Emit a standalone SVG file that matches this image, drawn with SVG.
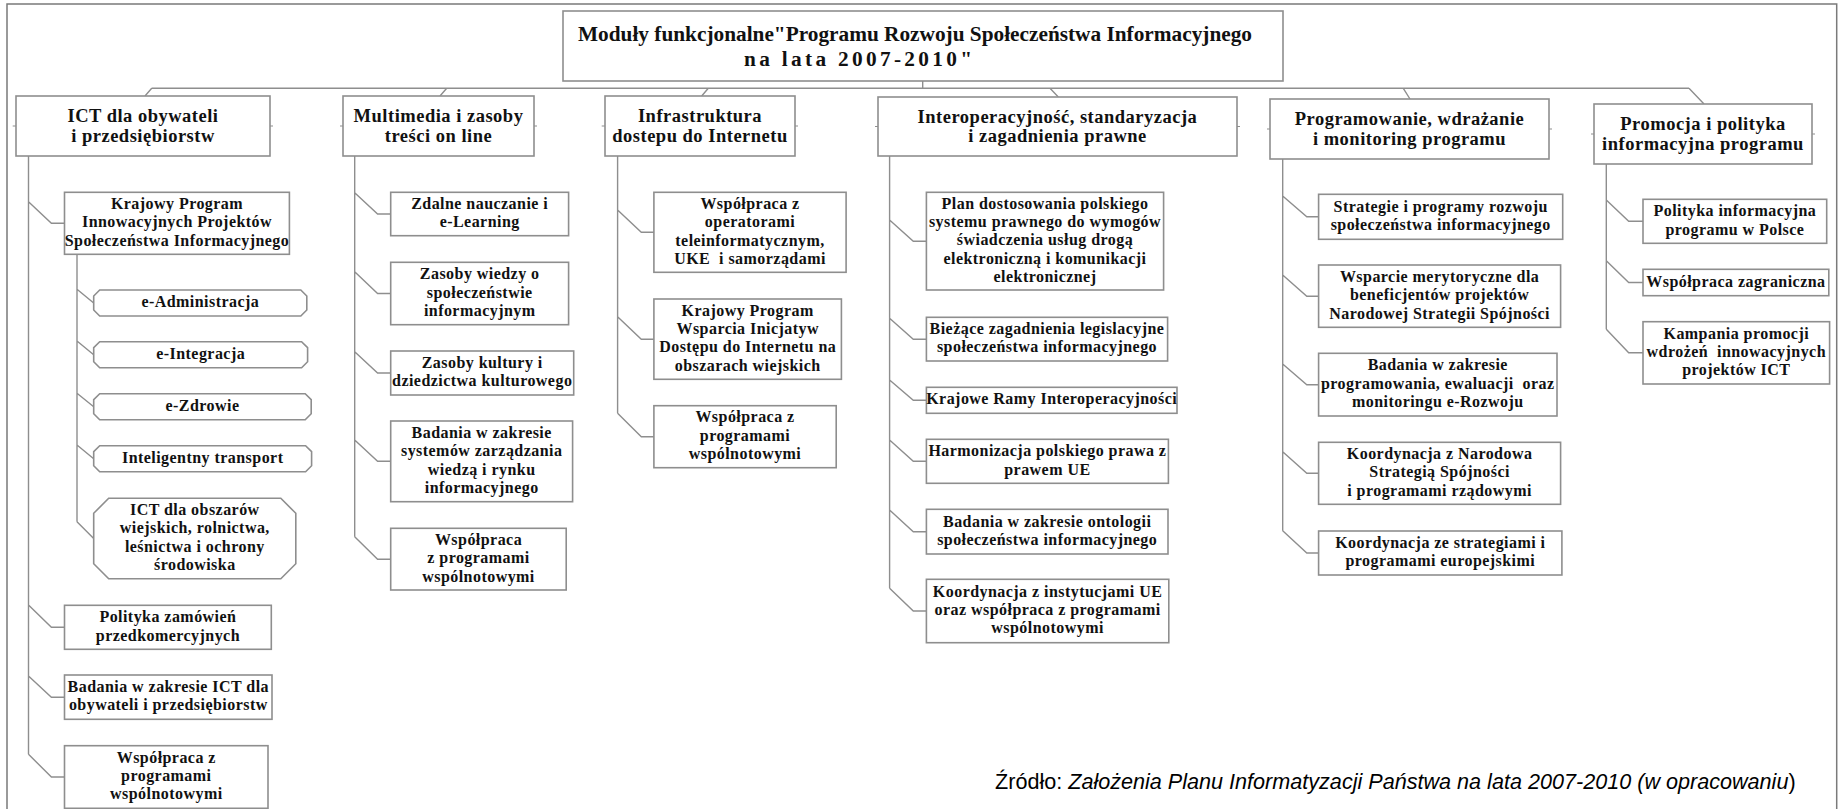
<svg xmlns="http://www.w3.org/2000/svg" width="1839" height="809" viewBox="0 0 1839 809">
<style>
.box{fill:#fff;stroke:#8e8e8e;stroke-width:1.6}
.conn{fill:none;stroke:#8e8e8e;stroke-width:1.4}
.tick{fill:none;stroke:#8e8e8e;stroke-width:1.2}
.t{font-family:"Liberation Serif","Times New Roman",serif;font-weight:bold;font-size:16px;letter-spacing:0.45px;text-anchor:middle;fill:#111}
.t1{font-size:18.5px;letter-spacing:0.5px}
.tt{font-size:21.3px;letter-spacing:0}
.src{font-family:"Liberation Sans",Arial,sans-serif;font-size:21.6px;fill:#000}
</style>
<rect width="1839" height="809" fill="#fff"/>
<path d="M7,809 V4 H1836.7 V809" fill="none" stroke="#7a7a7a" stroke-width="1.5"/>

<g id="connectors">
<path class="conn" d="M151.7,88.3 H1689 M922.7,81 V88.3 M151.7,88.3 L145,96 M446.7,88.3 L440,96 M708.3,88.3 L701.7,96 M1050,88.3 L1058.3,97 M1403.3,88.3 L1410,99 M1689,88.3 L1704,104"/>
<path class="tick" d="M12.7,126 H16 M270,126 H273 M340,126 H343 M534,126 H537 M601.7,126 H605 M795,126 H798 M875,126.5 H878 M1237,126.5 H1240 M1267,129 H1270 M1549,129 H1552 M1591,134 H1594 M1812,134 H1815"/>
<path class="conn" d="M28.5,156 V754.3 M28.5,201.7 L51.4,223.3 H64.5 M28.5,605 L51.4,627.3 H64.5 M28.5,676 L51.4,697.2 H64.5 M28.5,754.3 L51.4,777 H64.5"/>
<path class="conn" d="M77,254.3 V521.7 M77,289.3 L93.7,303 M77,341 L93.7,354.7 M77,393.3 L93.7,406.7 M77,445 L93.7,458.7 M77,521.7 L93.7,538.5"/>
<path class="conn" d="M354.7,156 V536.7 M354.7,192.7 L377.6,214 H390.7 M354.7,271.7 L377.6,293.5 H390.7 M354.7,351.7 L377.6,373 H390.7 M354.7,440 L377.6,461.3 H390.7 M354.7,536.7 L377.6,559.2 H390.7"/>
<path class="conn" d="M617.6,156 V413.3 M617.6,210 L641.3,232.3 H653.9 M617.6,316.7 L641.3,339.2 H653.9 M617.6,413.3 L641.3,436.7 H653.9"/>
<path class="conn" d="M889.6,156 V588.3 M889.6,220 L913.3,241.2 H926.4 M889.6,318.3 L913.3,339.2 H926.4 M889.6,380 L913.3,400.3 H926.4 M889.6,440 L913.3,461.3 H926.4 M889.6,510 L913.3,531.7 H926.4 M889.6,588.3 L913.3,611 H926.4"/>
<path class="conn" d="M1282.7,159 V530.7 M1282.7,196 L1306.8,216.8 H1318.6 M1282.7,275 L1306.8,296.2 H1318.6 M1282.7,364 L1306.8,384.7 H1318.6 M1282.7,451.7 L1306.8,473.3 H1318.6 M1282.7,530.7 L1306.8,553 H1318.6"/>
<path class="conn" d="M1606.3,164 V329.3 M1606.3,200 L1628.7,221.3 H1643 M1606.3,260.7 L1628.7,282.5 H1643 M1606.3,329.3 L1628.7,352.8 H1643"/>
</g>

<g id="title"><rect class="box" x="563" y="11" width="720" height="70"/>
<text class="t tt" x="915" y="40.5">Moduły funkcjonalne"Programu Rozwoju Społeczeństwa Informacyjnego</text>
<text class="t tt" x="858" y="66" textLength="228" lengthAdjust="spacing">na lata 2007-2010"</text></g>

<g id="ict"><rect class="box" x="16" y="96" width="254" height="60"/>
<text class="t t1" x="143" y="122.3">ICT dla obywateli</text><text class="t t1" x="143" y="141.7">i przedsiębiorstw</text></g>
<g id="multimedia"><rect class="box" x="343" y="96" width="191" height="60"/>
<text class="t t1" x="438.5" y="122.3">Multimedia i zasoby</text><text class="t t1" x="438.5" y="141.7">treści on line</text></g>
<g id="infrastruktura"><rect class="box" x="605" y="96" width="190" height="60"/>
<text class="t t1" x="700" y="122.3">Infrastruktura</text><text class="t t1" x="700" y="141.7">dostepu do Internetu</text></g>
<g id="interoperacyjnosc"><rect class="box" x="878" y="97" width="359" height="59"/>
<text class="t t1" x="1057.5" y="122.8">Interoperacyjność, standaryzacja</text><text class="t t1" x="1057.5" y="142.2">i zagadnienia prawne</text></g>
<g id="programowanie"><rect class="box" x="1270" y="99" width="279" height="60"/>
<text class="t t1" x="1409.5" y="125.3">Programowanie, wdrażanie</text><text class="t t1" x="1409.5" y="144.7">i monitoring programu</text></g>
<g id="promocja"><rect class="box" x="1594" y="104" width="218" height="60"/>
<text class="t t1" x="1703" y="130.3">Promocja i polityka</text><text class="t t1" x="1703" y="149.7">informacyjna programu</text></g>

<g id="kpiprsi"><rect class="box" x="64.5" y="192.3" width="224.9" height="62"/>
<text class="t" x="177" y="209">Krajowy Program</text><text class="t" x="177" y="227.3">Innowacyjnych Projektów</text><text class="t" x="177" y="245.6">Społeczeństwa Informacyjnego</text></g>
<g id="e-administracja"><polygon class="box" points="99.7,290 300.8,290 306.8,296 306.8,310 300.8,316 99.7,316 93.7,310 93.7,296"/>
<text class="t" x="200.3" y="307">e-Administracja</text></g>
<g id="e-integracja"><polygon class="box" points="99.7,341.7 301.6,341.7 307.6,347.7 307.6,361.7 301.6,367.7 99.7,367.7 93.7,361.7 93.7,347.7"/>
<text class="t" x="200.7" y="358.7">e-Integracja</text></g>
<g id="e-zdrowie"><polygon class="box" points="99.7,393.7 305.2,393.7 311.2,399.7 311.2,413.7 305.2,419.7 99.7,419.7 93.7,413.7 93.7,399.7"/>
<text class="t" x="202.5" y="410.7">e-Zdrowie</text></g>
<g id="transport"><polygon class="box" points="99.7,445.7 305.6,445.7 311.6,451.7 311.6,465.7 305.6,471.7 99.7,471.7 93.7,465.7 93.7,451.7"/>
<text class="t" x="202.7" y="462.7">Inteligentny transport</text></g>
<g id="ict-obszary"><polygon class="box" points="108.7,498.3 280.8,498.3 295.8,513.3 295.8,563.7 280.8,578.7 108.7,578.7 93.7,563.7 93.7,513.3"/>
<text class="t" x="194.8" y="515.1">ICT dla obszarów</text><text class="t" x="194.8" y="533.4">wiejskich, rolnictwa,</text><text class="t" x="194.8" y="551.7">leśnictwa i ochrony</text><text class="t" x="194.8" y="570">środowiska</text></g>
<g id="polityka-zamowien"><rect class="box" x="64.5" y="605.3" width="206.8" height="44"/>
<text class="t" x="167.9" y="622.2">Polityka zamówień</text><text class="t" x="167.9" y="640.5">przedkomercyjnych</text></g>
<g id="badania-ict"><rect class="box" x="64.5" y="675" width="207.5" height="44.3"/>
<text class="t" x="168.3" y="692">Badania w zakresie ICT dla</text><text class="t" x="168.3" y="710.3">obywateli i przedsiębiorstw</text></g>
<g id="wspolpraca-ict"><rect class="box" x="64.5" y="745.7" width="203.5" height="62.6"/>
<text class="t" x="166.3" y="762.7">Współpraca z</text><text class="t" x="166.3" y="781">programami</text><text class="t" x="166.3" y="799.3">wspólnotowymi</text></g>

<g id="zdalne"><rect class="box" x="390.7" y="192.3" width="177.9" height="43.4"/>
<text class="t" x="479.7" y="208.9">Zdalne nauczanie i</text><text class="t" x="479.7" y="227.2">e-Learning</text></g>
<g id="zasoby-wiedzy"><rect class="box" x="390.7" y="262.3" width="177.9" height="62.4"/>
<text class="t" x="479.7" y="279.2">Zasoby wiedzy o</text><text class="t" x="479.7" y="297.5">społeczeństwie</text><text class="t" x="479.7" y="315.8">informacyjnym</text></g>
<g id="zasoby-kultury"><rect class="box" x="390.7" y="351" width="183" height="44"/>
<text class="t" x="482.2" y="367.9">Zasoby kultury i</text><text class="t" x="482.2" y="386.2">dziedzictwa kulturowego</text></g>
<g id="badania-systemow"><rect class="box" x="390.7" y="421" width="181.9" height="80.7"/>
<text class="t" x="481.7" y="437.9">Badania w zakresie</text><text class="t" x="481.7" y="456.2">systemów zarządzania</text><text class="t" x="481.7" y="474.5">wiedzą i rynku</text><text class="t" x="481.7" y="492.8">informacyjnego</text></g>
<g id="wspolpraca-mm"><rect class="box" x="390.7" y="528.3" width="175.5" height="61.7"/>
<text class="t" x="478.5" y="544.9">Współpraca</text><text class="t" x="478.5" y="563.2">z programami</text><text class="t" x="478.5" y="581.5">wspólnotowymi</text></g>

<g id="wspolpraca-operatorzy"><rect class="box" x="653.9" y="192.3" width="192.2" height="80"/>
<text class="t" x="750" y="208.9">Współpraca z</text><text class="t" x="750" y="227.2">operatorami</text><text class="t" x="750" y="245.5">teleinformatycznym,</text><text class="t" x="750" y="263.8" xml:space="preserve">UKE  i samorządami</text></g>
<g id="kpwidi"><rect class="box" x="653.9" y="299" width="187.5" height="80.3"/>
<text class="t" x="747.7" y="315.8">Krajowy Program</text><text class="t" x="747.7" y="334.1">Wsparcia Inicjatyw</text><text class="t" x="747.7" y="352.4">Dostępu do Internetu na</text><text class="t" x="747.7" y="370.7">obszarach wiejskich</text></g>
<g id="wspolpraca-inf"><rect class="box" x="653.9" y="405.7" width="182.3" height="62"/>
<text class="t" x="745" y="422.4">Współpraca z</text><text class="t" x="745" y="440.7">programami</text><text class="t" x="745" y="459">wspólnotowymi</text></g>

<g id="plan-dostosowania"><rect class="box" x="926.4" y="192.3" width="237.2" height="97.7"/>
<text class="t" x="1045" y="208.6">Plan dostosowania polskiego</text><text class="t" x="1045" y="226.9">systemu prawnego do wymogów</text><text class="t" x="1045" y="245.2">świadczenia usług drogą</text><text class="t" x="1045" y="263.5">elektroniczną i komunikacji</text><text class="t" x="1045" y="281.8">elektronicznej</text></g>
<g id="biezace"><rect class="box" x="926.4" y="317.3" width="241.2" height="43.7"/>
<text class="t" x="1047" y="334.1">Bieżące zagadnienia legislacyjne</text><text class="t" x="1047" y="352.4">społeczeństwa informacyjnego</text></g>
<g id="kri"><rect class="box" x="926.4" y="387.3" width="250.6" height="26"/>
<text class="t" x="1051.7" y="404.3">Krajowe Ramy Interoperacyjności</text></g>
<g id="harmonizacja"><rect class="box" x="926.4" y="439.3" width="242" height="44"/>
<text class="t" x="1047.4" y="456.2">Harmonizacja polskiego prawa z</text><text class="t" x="1047.4" y="474.5">prawem UE</text></g>
<g id="ontologie"><rect class="box" x="926.4" y="509.3" width="241.6" height="44.7"/>
<text class="t" x="1047.2" y="526.6">Badania w zakresie ontologii</text><text class="t" x="1047.2" y="544.9">społeczeństwa informacyjnego</text></g>
<g id="koordynacja-ue"><rect class="box" x="926.4" y="579.3" width="242.4" height="63.4"/>
<text class="t" x="1047.6" y="596.7">Koordynacja z instytucjami UE</text><text class="t" x="1047.6" y="615">oraz współpraca z programami</text><text class="t" x="1047.6" y="633.3">wspólnotowymi</text></g>

<g id="strategie"><rect class="box" x="1318.6" y="194.3" width="244.1" height="45"/>
<text class="t" x="1440.7" y="211.7">Strategie i programy rozwoju</text><text class="t" x="1440.7" y="230">społeczeństwa informacyjnego</text></g>
<g id="wsparcie"><rect class="box" x="1318.6" y="265" width="242" height="62.3"/>
<text class="t" x="1439.6" y="281.9">Wsparcie merytoryczne dla</text><text class="t" x="1439.6" y="300.2">beneficjentów projektów</text><text class="t" x="1439.6" y="318.5">Narodowej Strategii Spójności</text></g>
<g id="badania-programowania"><rect class="box" x="1318.6" y="353.3" width="238.4" height="62.7"/>
<text class="t" x="1437.8" y="370.4">Badania w zakresie</text><text class="t" x="1437.8" y="388.7" xml:space="preserve">programowania, ewaluacji  oraz</text><text class="t" x="1437.8" y="407">monitoringu e-Rozwoju</text></g>
<g id="koordynacja-nss"><rect class="box" x="1318.6" y="442.3" width="242" height="62"/>
<text class="t" x="1439.6" y="459">Koordynacja z Narodowa</text><text class="t" x="1439.6" y="477.3">Strategią Spójności</text><text class="t" x="1439.6" y="495.6">i programami rządowymi</text></g>
<g id="koordynacja-eu"><rect class="box" x="1318.6" y="531" width="243.3" height="44"/>
<text class="t" x="1440.3" y="547.9">Koordynacja ze strategiami i</text><text class="t" x="1440.3" y="566.2">programami europejskimi</text></g>

<g id="polityka-informacyjna"><rect class="box" x="1643" y="199.3" width="183.7" height="44"/>
<text class="t" x="1734.9" y="216.2">Polityka informacyjna</text><text class="t" x="1734.9" y="234.5">programu w Polsce</text></g>
<g id="wspolpraca-zagraniczna"><rect class="box" x="1643" y="269.3" width="185.8" height="26.4"/>
<text class="t" x="1735.9" y="286.5">Współpraca zagraniczna</text></g>
<g id="kampania"><rect class="box" x="1643" y="321.7" width="186.6" height="62.3"/>
<text class="t" x="1736.3" y="338.5">Kampania promocji</text><text class="t" x="1736.3" y="356.8" xml:space="preserve">wdrożeń  innowacyjnych</text><text class="t" x="1736.3" y="375.1">projektów ICT</text></g>

<text class="src" x="995" y="789">Źródło: <tspan font-style="italic">Założenia Planu Informatyzacji Państwa na lata 2007-2010 (w opracowaniu</tspan>)</text>
</svg>
